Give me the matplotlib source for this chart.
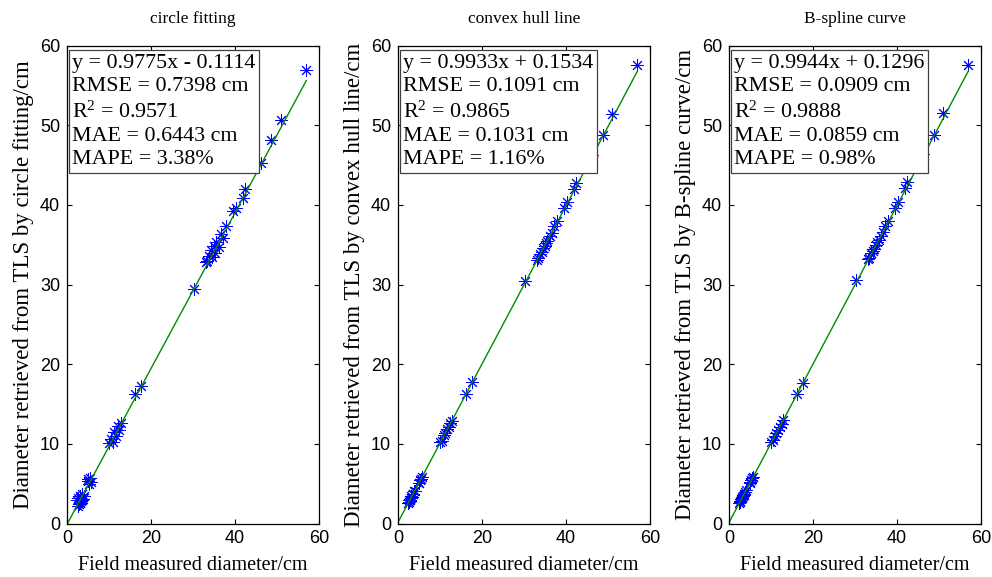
import matplotlib
matplotlib.use("Agg")
import matplotlib.pyplot as plt
import numpy as np

# field-measured DBH (cm), shared by all three methods
field = [2.4, 2.6, 2.7, 2.9, 3.0, 3.1, 3.2, 3.3, 3.5, 3.6, 3.8, 4.0,
         4.9, 5.1, 5.3, 5.5, 5.7,
         10.0, 10.4, 10.9, 11.3, 11.7, 12.1, 12.5, 12.9,
         16.2, 17.7,
         30.2,
         33.0, 33.4, 33.8, 34.2, 34.5, 34.9, 35.2, 35.6, 36.1, 36.6, 37.2, 37.9,
         39.5, 40.2, 42.0, 42.5,
         46.3, 48.7, 51.0, 57.0]

# TLS-derived DBH (cm) for each method
tls_circle = [2.9, 2.2, 3.2, 2.5, 3.4, 2.6, 3.5, 2.8, 3.0, 3.7, 3.1, 3.4,
              5.3, 5.6, 4.9, 5.7, 5.2,
              10.1, 10.6, 10.2, 11.5, 11.0, 12.2, 11.8, 12.6,
              16.3, 17.2,
              29.5,
              32.8, 33.0, 33.6, 34.3, 33.5, 34.8, 33.9, 35.3, 34.7, 36.3, 35.8, 37.4,
              39.2, 39.6, 40.8, 42.0,
              45.3, 48.2, 50.6, 56.9]

tls_hull = [2.60, 2.68, 2.90, 2.97, 3.20, 3.18, 3.41, 3.36, 3.72, 3.65, 4.02, 4.05,
            5.10, 5.14, 5.52, 5.55, 5.90,
            10.20, 10.41, 11.08, 11.30, 11.86, 12.10, 12.66, 12.90,
            16.30, 17.80,
            30.50,
            33.05, 33.28, 33.84, 34.05, 34.55, 34.78, 35.25, 35.45, 36.12, 36.45, 37.30, 38.00,
            39.60, 40.35, 41.95, 42.70,
            46.30, 48.80, 51.40, 57.50]

tls_bspline = [2.55, 2.75, 2.85, 3.05, 3.15, 3.25, 3.30, 3.45, 3.60, 3.75, 3.95, 4.15,
               5.05, 5.25, 5.40, 5.70, 5.85,
               10.25, 10.50, 11.00, 11.40, 11.75, 12.15, 12.55, 12.95,
               16.30, 17.70,
               30.55,
               33.20, 33.35, 33.90, 34.20, 34.50, 34.90, 35.30, 35.55, 36.05, 36.60, 37.30, 37.95,
               39.65, 40.40, 42.10, 42.85,
               46.40, 48.80, 51.55, 57.60]

titles = ["circle fitting", "convex hull line", "B-spline curve"]
methods = ["circle fitting", "convex hull line", "B-spline curve"]
slopes = [0.9775, 0.9933, 0.9944]
intercepts = [-0.1114, 0.1534, 0.1296]
rmse = ["0.7398", "0.1091", "0.0909"]
r2 = ["0.9571", "0.9865", "0.9888"]
mae = ["0.6443", "0.1031", "0.0859"]
mape = ["3.38", "1.16", "0.98"]

serif = "Liberation Serif"
sans = "Liberation Sans"

# superscript in R^2 should use the same serif face
plt.rcParams["mathtext.fontset"] = "custom"
plt.rcParams["mathtext.rm"] = serif
plt.rcParams["mathtext.it"] = serif + ":italic"

fig = plt.figure(figsize=(9.92, 5.77), dpi=100)
lefts = [0.0675, 0.4012, 0.7349]

for i, tls in enumerate([tls_circle, tls_hull, tls_bspline]):
    ax = fig.add_axes([lefts[i], 0.0927, 0.254, 0.8284])
    ax.plot(field, tls, linestyle="none", marker=(8, 2, 0), markersize=9,
            markeredgewidth=0.7, color="blue")
    xs = np.array([0, max(field)])
    ax.plot(xs, slopes[i] * xs + intercepts[i], color=(0, 0.55, 0), linewidth=1.0)

    ax.set_xlim(0, 60)
    ax.set_ylim(0, 60)
    ax.set_xticks([0, 20, 40, 60])
    ax.set_yticks([0, 10, 20, 30, 40, 50, 60])
    ax.tick_params(direction="in", length=3.3, width=0.8, top=True, right=True,
                   labelsize=13, pad=5)
    for lab in ax.get_xticklabels() + ax.get_yticklabels():
        lab.set_fontfamily(sans)
    for sp in ax.spines.values():
        sp.set_linewidth(0.9)

    ax.set_title(titles[i], fontfamily=serif, fontsize=12.5, pad=16)
    ax.set_xlabel("Field measured diameter/cm", fontfamily=serif, fontsize=14.5, labelpad=6)
    ax.set_ylabel("Diameter retrieved from TLS by %s/cm" % methods[i],
                  fontfamily=serif, fontsize=16.5, labelpad=4)

    sign = "-" if intercepts[i] < 0 else "+"
    stats = ("y = %.4fx %s %.4f\n" % (slopes[i], sign, abs(intercepts[i]))
             + "RMSE = %s cm\n" % rmse[i]
             + "R$^2$ = %s\n" % r2[i]
             + "MAE = %s cm\n" % mae[i]
             + "MAPE = %s%%" % mape[i])
    ax.text(0.02, 0.983, stats, transform=ax.transAxes, ha="left", va="top",
            fontfamily=serif, fontsize=15.8, linespacing=1.32,
            bbox=dict(boxstyle="square,pad=0.15", facecolor="white",
                      edgecolor="0.25", linewidth=0.9))

fig.savefig("out.png", dpi=100)
